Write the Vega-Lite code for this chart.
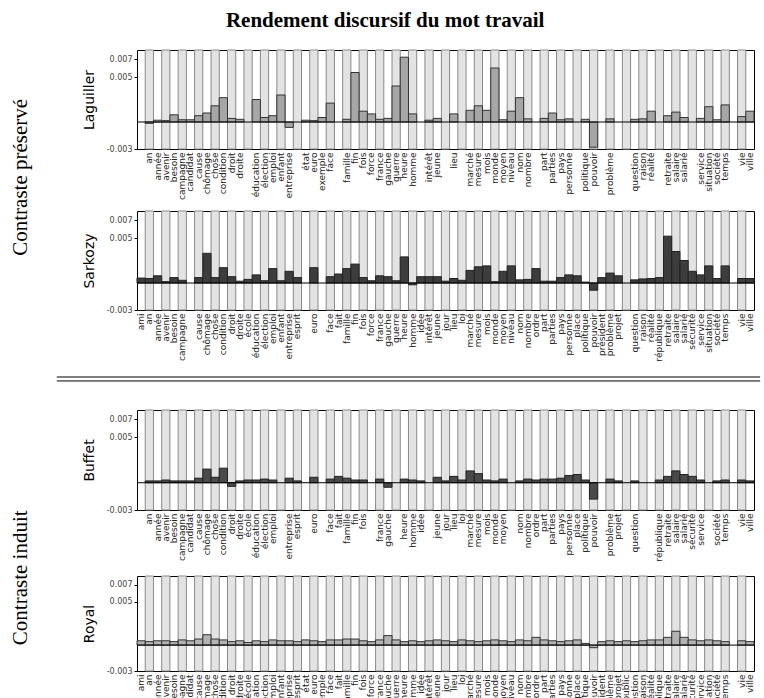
{
  "$schema": "https://vega.github.io/schema/vega-lite/v6.json",
  "background": "white",
  "padding": {"left": 9, "top": 10, "right": 5, "bottom": 5},
  "title": {"text": "Rendement discursif du mot travail", "font": "Liberation Serif", "fontSize": 21, "fontWeight": "bold", "color": "#000", "anchor": "middle", "offset": 18},
  "config": {
    "view": {"stroke": "#000", "strokeWidth": 1},
    "axisY": {"labelFont": "DejaVu Sans", "labelFontSize": 8, "labelColor": "#444", "tickSize": 3, "tickColor": "#000", "domain": false, "grid": false, "titleFont": "DejaVu Sans", "titleFontSize": 14, "titleFontWeight": "normal", "titleColor": "#000", "titlePadding": 10},
    "axisX": {"ticks": false, "domain": false, "grid": false, "labelAngle": -90, "labelFont": "DejaVu Sans", "labelFontSize": 9, "labelColor": "#222", "labelPadding": 3, "labelOverlap": false, "labelBound": false}
  },
  "datasets": {
    "words": [
      {"word": "ami"}, {"word": "an"}, {"word": "année"}, {"word": "avenir"}, {"word": "besoin"}, {"word": "campagne"}, {"word": "candidat"}, {"word": "cause"}, {"word": "chômage"}, {"word": "chose"},
      {"word": "condition"}, {"word": "droit"}, {"word": "droite"}, {"word": "école"}, {"word": "éducation"}, {"word": "élection"}, {"word": "emploi"}, {"word": "enfant"}, {"word": "entreprise"}, {"word": "esprit"},
      {"word": "état"}, {"word": "euro"}, {"word": "exemple"}, {"word": "face"}, {"word": "fait"}, {"word": "famille"}, {"word": "fin"}, {"word": "fois"}, {"word": "force"}, {"word": "france"},
      {"word": "gauche"}, {"word": "guerre"}, {"word": "heure"}, {"word": "homme"}, {"word": "idée"}, {"word": "intérêt"}, {"word": "jeune"}, {"word": "jour"}, {"word": "lieu"}, {"word": "loi"},
      {"word": "marché"}, {"word": "mesure"}, {"word": "mois"}, {"word": "monde"}, {"word": "moyen"}, {"word": "niveau"}, {"word": "nom"}, {"word": "nombre"}, {"word": "ordre"}, {"word": "part"},
      {"word": "parties"}, {"word": "pays"}, {"word": "personne"}, {"word": "place"}, {"word": "politique"}, {"word": "pouvoir"}, {"word": "président"}, {"word": "problème"}, {"word": "projet"}, {"word": "public"},
      {"word": "question"}, {"word": "raison"}, {"word": "réalité"}, {"word": "république"}, {"word": "retraite"}, {"word": "salaire"}, {"word": "salarié"}, {"word": "sécurité"}, {"word": "service"}, {"word": "situation"},
      {"word": "société"}, {"word": "temps"}, {"word": "travail"}, {"word": "vie"}, {"word": "ville"}
    ],
    "laguiller": [
      {"word": "an", "v": -0.00015}, {"word": "année", "v": 0.0002}, {"word": "avenir", "v": 0.00015}, {"word": "besoin", "v": 0.0008}, {"word": "campagne", "v": 0.00025}, {"word": "candidat", "v": 0.00025}, {"word": "cause", "v": 0.0007}, {"word": "chômage", "v": 0.001}, {"word": "chose", "v": 0.0018}, {"word": "condition", "v": 0.0027},
      {"word": "droit", "v": 0.0004}, {"word": "droite", "v": 0.0003}, {"word": "éducation", "v": 0.0025}, {"word": "élection", "v": 0.0005}, {"word": "emploi", "v": 0.0007}, {"word": "enfant", "v": 0.003}, {"word": "entreprise", "v": -0.0006}, {"word": "état", "v": 0.0002}, {"word": "euro", "v": 0.00015}, {"word": "exemple", "v": 0.0005},
      {"word": "face", "v": 0.0021}, {"word": "famille", "v": 0.0003}, {"word": "fin", "v": 0.0055}, {"word": "fois", "v": 0.0012}, {"word": "force", "v": 0.0009}, {"word": "france", "v": 0.0003}, {"word": "gauche", "v": 0.0004}, {"word": "guerre", "v": 0.004}, {"word": "heure", "v": 0.0072}, {"word": "homme", "v": 0.0009},
      {"word": "intérêt", "v": 0.0002}, {"word": "jeune", "v": 0.0004}, {"word": "lieu", "v": 0.0009}, {"word": "marché", "v": 0.0013}, {"word": "mesure", "v": 0.0018}, {"word": "mois", "v": 0.0013}, {"word": "monde", "v": 0.006}, {"word": "moyen", "v": 0.00025}, {"word": "niveau", "v": 0.0012}, {"word": "nom", "v": 0.0027},
      {"word": "nombre", "v": 0.00035}, {"word": "part", "v": 0.0004}, {"word": "parties", "v": 0.001}, {"word": "pays", "v": 0.00025}, {"word": "personne", "v": 0.00035}, {"word": "politique", "v": 0.0003}, {"word": "pouvoir", "v": -0.0028}, {"word": "problème", "v": 0.00035}, {"word": "question", "v": 0.0003}, {"word": "raison", "v": 0.00035},
      {"word": "réalité", "v": 0.0012}, {"word": "retraite", "v": 0.0007}, {"word": "salaire", "v": 0.0011}, {"word": "salarié", "v": 0.0005}, {"word": "service", "v": 0.0004}, {"word": "situation", "v": 0.0017}, {"word": "société", "v": 0.00025}, {"word": "temps", "v": 0.0019}, {"word": "vie", "v": 0.0006}, {"word": "ville", "v": 0.0012}
    ],
    "sarkozy": [
      {"word": "ami", "v": 0.00055}, {"word": "an", "v": 0.0005}, {"word": "année", "v": 0.0008}, {"word": "avenir", "v": 0.00015}, {"word": "besoin", "v": 0.0006}, {"word": "campagne", "v": 0.0003}, {"word": "cause", "v": 0.0006}, {"word": "chômage", "v": 0.0033}, {"word": "chose", "v": 0.0006}, {"word": "condition", "v": 0.0017},
      {"word": "droit", "v": 0.0007}, {"word": "droite", "v": 0.0002}, {"word": "école", "v": 0.0004}, {"word": "éducation", "v": 0.0009}, {"word": "élection", "v": 0.00025}, {"word": "emploi", "v": 0.0016}, {"word": "enfant", "v": 0.00025}, {"word": "entreprise", "v": 0.0013}, {"word": "esprit", "v": 0.0006}, {"word": "euro", "v": 0.0017},
      {"word": "face", "v": 0.0007}, {"word": "fait", "v": 0.001}, {"word": "famille", "v": 0.0016}, {"word": "fin", "v": 0.0021}, {"word": "fois", "v": 0.0006}, {"word": "force", "v": 0.00025}, {"word": "france", "v": 0.0008}, {"word": "gauche", "v": 0.0007}, {"word": "guerre", "v": 0.00025}, {"word": "heure", "v": 0.0029},
      {"word": "homme", "v": -0.0002}, {"word": "idée", "v": 0.0007}, {"word": "intérêt", "v": 0.0007}, {"word": "jeune", "v": 0.0007}, {"word": "jour", "v": 0.0002}, {"word": "lieu", "v": 0.0005}, {"word": "loi", "v": 0.0003}, {"word": "marché", "v": 0.0014}, {"word": "mesure", "v": 0.0018}, {"word": "mois", "v": 0.0019},
      {"word": "monde", "v": 0.00015}, {"word": "moyen", "v": 0.0013}, {"word": "niveau", "v": 0.0019}, {"word": "nom", "v": 0.00035}, {"word": "nombre", "v": 0.0004}, {"word": "ordre", "v": 0.0016}, {"word": "part", "v": 0.0002}, {"word": "parties", "v": 0.0002}, {"word": "pays", "v": 0.0006}, {"word": "personne", "v": 0.0009},
      {"word": "place", "v": 0.0008}, {"word": "politique", "v": 0.0001}, {"word": "pouvoir", "v": -0.0008}, {"word": "président", "v": 0.0006}, {"word": "problème", "v": 0.0011}, {"word": "projet", "v": 0.0008}, {"word": "question", "v": 0.00035}, {"word": "raison", "v": 0.00045}, {"word": "réalité", "v": 0.0005}, {"word": "république", "v": 0.0006},
      {"word": "retraite", "v": 0.0052}, {"word": "salaire", "v": 0.0035}, {"word": "salarié", "v": 0.0025}, {"word": "sécurité", "v": 0.0013}, {"word": "service", "v": 0.0009}, {"word": "situation", "v": 0.0019}, {"word": "société", "v": 0.0005}, {"word": "temps", "v": 0.0019}, {"word": "vie", "v": 0.0005}, {"word": "ville", "v": 0.0005}
    ],
    "buffet": [
      {"word": "an", "v": 0.0002}, {"word": "année", "v": 0.0002}, {"word": "avenir", "v": 0.0003}, {"word": "besoin", "v": 0.0002}, {"word": "campagne", "v": 0.0002}, {"word": "candidat", "v": 0.0002}, {"word": "cause", "v": 0.0005}, {"word": "chômage", "v": 0.0015}, {"word": "chose", "v": 0.0006}, {"word": "condition", "v": 0.0016},
      {"word": "droit", "v": -0.0004}, {"word": "droite", "v": 0.0002}, {"word": "école", "v": 0.0003}, {"word": "éducation", "v": 0.0003}, {"word": "élection", "v": 0.0004}, {"word": "emploi", "v": 0.0003}, {"word": "entreprise", "v": 0.0005}, {"word": "esprit", "v": 0.0002}, {"word": "euro", "v": 0.0006}, {"word": "face", "v": 0.0004},
      {"word": "fait", "v": 0.0007}, {"word": "famille", "v": 0.0005}, {"word": "fin", "v": 0.0003}, {"word": "fois", "v": 0.0003}, {"word": "france", "v": 0.0004}, {"word": "gauche", "v": -0.0005}, {"word": "heure", "v": 0.0004}, {"word": "homme", "v": 0.0003}, {"word": "idée", "v": 0.0002}, {"word": "jeune", "v": 0.0006},
      {"word": "jour", "v": 0.0002}, {"word": "lieu", "v": 0.0007}, {"word": "loi", "v": 0.0003}, {"word": "marché", "v": 0.0013}, {"word": "mesure", "v": 0.001}, {"word": "mois", "v": 0.0003}, {"word": "monde", "v": 0.0002}, {"word": "moyen", "v": 0.0004}, {"word": "nom", "v": 0.0002}, {"word": "nombre", "v": 0.0004},
      {"word": "ordre", "v": 0.0003}, {"word": "part", "v": 0.0004}, {"word": "parties", "v": 0.0004}, {"word": "pays", "v": 0.0005}, {"word": "personne", "v": 0.0008}, {"word": "place", "v": 0.0009}, {"word": "politique", "v": 0.0003}, {"word": "pouvoir", "v": -0.0018}, {"word": "problème", "v": 0.0004}, {"word": "projet", "v": 0.0002},
      {"word": "question", "v": 0.0002}, {"word": "république", "v": 0.0003}, {"word": "retraite", "v": 0.0007}, {"word": "salaire", "v": 0.0013}, {"word": "salarié", "v": 0.0009}, {"word": "sécurité", "v": 0.0007}, {"word": "service", "v": 0.0003}, {"word": "société", "v": 0.0002}, {"word": "temps", "v": 0.0003}, {"word": "vie", "v": 0.0003},
      {"word": "ville", "v": 0.0002}
    ],
    "royal": [
      {"word": "ami", "v": 0.0005}, {"word": "an", "v": 0.0004}, {"word": "année", "v": 0.0005}, {"word": "avenir", "v": 0.0005}, {"word": "besoin", "v": 0.0004}, {"word": "campagne", "v": 0.0006}, {"word": "candidat", "v": 0.0005}, {"word": "cause", "v": 0.0007}, {"word": "chômage", "v": 0.0012}, {"word": "chose", "v": 0.0007},
      {"word": "condition", "v": 0.0006}, {"word": "droit", "v": 0.0004}, {"word": "droite", "v": 0.0005}, {"word": "école", "v": 0.0003}, {"word": "éducation", "v": 0.0005}, {"word": "élection", "v": 0.0004}, {"word": "emploi", "v": 0.0006}, {"word": "enfant", "v": 0.0005}, {"word": "entreprise", "v": 0.0005}, {"word": "esprit", "v": 0.0004},
      {"word": "état", "v": 0.0006}, {"word": "euro", "v": 0.0005}, {"word": "exemple", "v": 0.0004}, {"word": "face", "v": 0.0006}, {"word": "fait", "v": 0.0006}, {"word": "famille", "v": 0.0007}, {"word": "fin", "v": 0.0007}, {"word": "fois", "v": 0.0005}, {"word": "force", "v": 0.0004}, {"word": "france", "v": 0.0006},
      {"word": "gauche", "v": 0.0011}, {"word": "guerre", "v": 0.0006}, {"word": "heure", "v": 0.0004}, {"word": "homme", "v": 0.0005}, {"word": "idée", "v": 0.0004}, {"word": "intérêt", "v": 0.0005}, {"word": "jeune", "v": 0.0006}, {"word": "jour", "v": 0.0005}, {"word": "lieu", "v": 0.0004}, {"word": "loi", "v": 0.0006},
      {"word": "marché", "v": 0.0005}, {"word": "mesure", "v": 0.0004}, {"word": "mois", "v": 0.0005}, {"word": "monde", "v": 0.0006}, {"word": "moyen", "v": 0.0005}, {"word": "niveau", "v": 0.0004}, {"word": "nom", "v": 0.0006}, {"word": "nombre", "v": 0.0005}, {"word": "ordre", "v": 0.0009}, {"word": "part", "v": 0.0006},
      {"word": "parties", "v": 0.0005}, {"word": "pays", "v": 0.0004}, {"word": "personne", "v": 0.0005}, {"word": "place", "v": 0.0006}, {"word": "politique", "v": 0.0002}, {"word": "pouvoir", "v": -0.0003}, {"word": "président", "v": 0.0004}, {"word": "problème", "v": 0.0005}, {"word": "projet", "v": 0.0004}, {"word": "public", "v": 0.0005},
      {"word": "question", "v": 0.0004}, {"word": "raison", "v": 0.0005}, {"word": "réalité", "v": 0.0006}, {"word": "république", "v": 0.0006}, {"word": "retraite", "v": 0.0009}, {"word": "salaire", "v": 0.0016}, {"word": "salarié", "v": 0.0009}, {"word": "sécurité", "v": 0.0006}, {"word": "service", "v": 0.0005}, {"word": "situation", "v": 0.0006},
      {"word": "société", "v": 0.0005}, {"word": "temps", "v": 0.0004}, {"word": "vie", "v": 0.0005}, {"word": "ville", "v": 0.0004}
    ]
  },
  "spacing": 14,
  "vconcat": [
    {
      "title": {"text": "Contraste préservé", "orient": "left", "anchor": "middle", "font": "Liberation Serif", "fontSize": 21, "fontWeight": "normal", "color": "#000", "offset": 51, "dx": 28},
      "spacing": 10,
      "vconcat": [
        {
          "width": 617, "height": 99,
          "layer": [
            {
              "data": {"name": "words"},
              "transform": [{"window": [{"op": "row_number", "as": "rn"}]}, {"filter": "datum.rn % 2 == 0"}],
              "mark": {"type": "bar", "fill": "#e3e3e3", "stroke": "#8a8a8a", "strokeWidth": 1},
              "encoding": {
                "x": {"field": "word", "type": "nominal", "scale": {"domain": ["ami","an","année","avenir","besoin","campagne","candidat","cause","chômage","chose","condition","droit","droite","école","éducation","élection","emploi","enfant","entreprise","esprit","état","euro","exemple","face","fait","famille","fin","fois","force","france","gauche","guerre","heure","homme","idée","intérêt","jeune","jour","lieu","loi","marché","mesure","mois","monde","moyen","niveau","nom","nombre","ordre","part","parties","pays","personne","place","politique","pouvoir","président","problème","projet","public","question","raison","réalité","république","retraite","salaire","salarié","sécurité","service","situation","société","temps","travail","vie","ville"], "paddingInner": 0, "paddingOuter": 0}, "axis": {"title": null, "labelExpr": "indexof(['ami','école','esprit','fait','idée','jour','loi','ordre','place','président','projet','public','république','sécurité','travail'], datum.value) < 0 ? datum.value : ''"}},
                "y": {"datum": -0.003, "type": "quantitative", "scale": {"domain": [-0.003, 0.008], "nice": false, "zero": false}, "axis": {"title": "Laguiller", "values": [-0.003, 0.005, 0.007], "labelExpr": "replace(format(datum.value, '.3f'), '\u2212', '-')"}},
                "y2": {"datum": 0.008}
              }
            },
            {
              "data": {"name": "laguiller"},
              "mark": {"type": "bar", "fill": "#a6a6a6", "stroke": "#333333", "strokeWidth": 1},
              "encoding": {
                "x": {"field": "word", "type": "nominal", "axis": {"title": null}},
                "y": {"field": "v", "type": "quantitative", "axis": {"title": "Laguiller", "values": [-0.003, 0.005, 0.007]}}
              }
            },
            {
              "data": {"values": [{}]},
              "mark": {"type": "rule", "color": "#000", "strokeWidth": 1},
              "encoding": {"y": {"datum": 0, "type": "quantitative", "axis": {"title": "Laguiller", "values": [-0.003, 0.005, 0.007]}}}
            }
          ]
        },
        {
          "width": 617, "height": 99,
          "layer": [
            {
              "data": {"name": "words"},
              "transform": [{"window": [{"op": "row_number", "as": "rn"}]}, {"filter": "datum.rn % 2 == 0"}],
              "mark": {"type": "bar", "fill": "#e3e3e3", "stroke": "#8a8a8a", "strokeWidth": 1},
              "encoding": {
                "x": {"field": "word", "type": "nominal", "scale": {"domain": ["ami","an","année","avenir","besoin","campagne","candidat","cause","chômage","chose","condition","droit","droite","école","éducation","élection","emploi","enfant","entreprise","esprit","état","euro","exemple","face","fait","famille","fin","fois","force","france","gauche","guerre","heure","homme","idée","intérêt","jeune","jour","lieu","loi","marché","mesure","mois","monde","moyen","niveau","nom","nombre","ordre","part","parties","pays","personne","place","politique","pouvoir","président","problème","projet","public","question","raison","réalité","république","retraite","salaire","salarié","sécurité","service","situation","société","temps","travail","vie","ville"], "paddingInner": 0, "paddingOuter": 0}, "axis": {"title": null, "labelExpr": "indexof(['candidat','état','exemple','public','travail'], datum.value) < 0 ? datum.value : ''"}},
                "y": {"datum": -0.003, "type": "quantitative", "scale": {"domain": [-0.003, 0.008], "nice": false, "zero": false}, "axis": {"title": "Sarkozy", "values": [-0.003, 0.005, 0.007], "labelExpr": "replace(format(datum.value, '.3f'), '\u2212', '-')"}},
                "y2": {"datum": 0.008}
              }
            },
            {
              "data": {"name": "sarkozy"},
              "mark": {"type": "bar", "fill": "#3d3d3d", "stroke": "#222222", "strokeWidth": 1},
              "encoding": {
                "x": {"field": "word", "type": "nominal", "axis": {"title": null}},
                "y": {"field": "v", "type": "quantitative", "axis": {"title": "Sarkozy", "values": [-0.003, 0.005, 0.007]}}
              }
            },
            {
              "data": {"values": [{}]},
              "mark": {"type": "rule", "color": "#000", "strokeWidth": 1},
              "encoding": {"y": {"datum": 0, "type": "quantitative", "axis": {"title": "Sarkozy", "values": [-0.003, 0.005, 0.007]}}}
            }
          ]
        }
      ]
    },
    {
      "width": 617, "height": 18,
      "view": {"stroke": null},
      "data": {"values": [{}]},
      "layer": [
        {
          "mark": {"type": "rule", "color": "#000", "strokeWidth": 1},
          "encoding": {
            "x": {"datum": -0.13, "type": "quantitative", "scale": {"domain": [0, 1], "nice": false, "zero": false}, "axis": null},
            "x2": {"datum": 1.01},
            "y": {"datum": 1, "type": "quantitative", "scale": {"domain": [0, 1], "nice": false}, "axis": null}
          }
        },
        {
          "mark": {"type": "rule", "color": "#000", "strokeWidth": 1},
          "encoding": {
            "x": {"datum": -0.13, "type": "quantitative", "axis": null},
            "x2": {"datum": 1.01},
            "y": {"datum": 0.78, "type": "quantitative", "axis": null}
          }
        }
      ]
    },
    {
      "title": {"text": "Contraste induit", "orient": "left", "anchor": "middle", "font": "Liberation Serif", "fontSize": 21, "fontWeight": "normal", "color": "#000", "offset": 51, "dx": -12},
      "spacing": 13,
      "vconcat": [
        {
          "width": 617, "height": 100,
          "layer": [
            {
              "data": {"name": "words"},
              "transform": [{"window": [{"op": "row_number", "as": "rn"}]}, {"filter": "datum.rn % 2 == 0"}],
              "mark": {"type": "bar", "fill": "#e3e3e3", "stroke": "#8a8a8a", "strokeWidth": 1},
              "encoding": {
                "x": {"field": "word", "type": "nominal", "scale": {"domain": ["ami","an","année","avenir","besoin","campagne","candidat","cause","chômage","chose","condition","droit","droite","école","éducation","élection","emploi","enfant","entreprise","esprit","état","euro","exemple","face","fait","famille","fin","fois","force","france","gauche","guerre","heure","homme","idée","intérêt","jeune","jour","lieu","loi","marché","mesure","mois","monde","moyen","niveau","nom","nombre","ordre","part","parties","pays","personne","place","politique","pouvoir","président","problème","projet","public","question","raison","réalité","république","retraite","salaire","salarié","sécurité","service","situation","société","temps","travail","vie","ville"], "paddingInner": 0, "paddingOuter": 0}, "axis": {"title": null, "labelExpr": "indexof(['ami','enfant','état','exemple','force','guerre','intérêt','niveau','président','public','raison','réalité','situation','travail'], datum.value) < 0 ? datum.value : ''"}},
                "y": {"datum": -0.003, "type": "quantitative", "scale": {"domain": [-0.003, 0.008], "nice": false, "zero": false}, "axis": {"title": "Buffet", "values": [-0.003, 0.005, 0.007], "labelExpr": "replace(format(datum.value, '.3f'), '\u2212', '-')"}},
                "y2": {"datum": 0.008}
              }
            },
            {
              "data": {"name": "buffet"},
              "mark": {"type": "bar", "fill": "#4a4a4a", "stroke": "#222222", "strokeWidth": 1},
              "encoding": {
                "x": {"field": "word", "type": "nominal", "axis": {"title": null}},
                "y": {"field": "v", "type": "quantitative", "axis": {"title": "Buffet", "values": [-0.003, 0.005, 0.007]}}
              }
            },
            {
              "data": {"values": [{}]},
              "mark": {"type": "rule", "color": "#000", "strokeWidth": 1},
              "encoding": {"y": {"datum": 0, "type": "quantitative", "axis": {"title": "Buffet", "values": [-0.003, 0.005, 0.007]}}}
            }
          ]
        },
        {
          "width": 617, "height": 95,
          "layer": [
            {
              "data": {"name": "words"},
              "transform": [{"window": [{"op": "row_number", "as": "rn"}]}, {"filter": "datum.rn % 2 == 0"}],
              "mark": {"type": "bar", "fill": "#e3e3e3", "stroke": "#8a8a8a", "strokeWidth": 1},
              "encoding": {
                "x": {"field": "word", "type": "nominal", "scale": {"domain": ["ami","an","année","avenir","besoin","campagne","candidat","cause","chômage","chose","condition","droit","droite","école","éducation","élection","emploi","enfant","entreprise","esprit","état","euro","exemple","face","fait","famille","fin","fois","force","france","gauche","guerre","heure","homme","idée","intérêt","jeune","jour","lieu","loi","marché","mesure","mois","monde","moyen","niveau","nom","nombre","ordre","part","parties","pays","personne","place","politique","pouvoir","président","problème","projet","public","question","raison","réalité","république","retraite","salaire","salarié","sécurité","service","situation","société","temps","travail","vie","ville"], "paddingInner": 0, "paddingOuter": 0}, "axis": {"title": null, "labelExpr": "indexof(['travail'], datum.value) < 0 ? datum.value : ''"}},
                "y": {"datum": -0.003, "type": "quantitative", "scale": {"domain": [-0.003, 0.008], "nice": false, "zero": false}, "axis": {"title": "Royal", "values": [-0.003, 0.005, 0.007], "labelExpr": "replace(format(datum.value, '.3f'), '\u2212', '-')"}},
                "y2": {"datum": 0.008}
              }
            },
            {
              "data": {"name": "royal"},
              "mark": {"type": "bar", "fill": "#b3b3b3", "stroke": "#333333", "strokeWidth": 1},
              "encoding": {
                "x": {"field": "word", "type": "nominal", "axis": {"title": null}},
                "y": {"field": "v", "type": "quantitative", "axis": {"title": "Royal", "values": [-0.003, 0.005, 0.007]}}
              }
            },
            {
              "data": {"values": [{}]},
              "mark": {"type": "rule", "color": "#000", "strokeWidth": 1},
              "encoding": {"y": {"datum": 0, "type": "quantitative", "axis": {"title": "Royal", "values": [-0.003, 0.005, 0.007]}}}
            }
          ]
        }
      ]
    }
  ]
}
